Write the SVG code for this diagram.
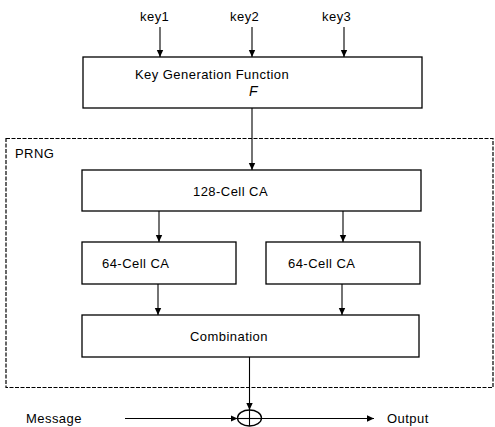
<svg xmlns="http://www.w3.org/2000/svg" width="495" height="427" viewBox="0 0 495 427">
<style>
.box{fill:#fff;stroke:#000;stroke-width:1.3}
.t{font-family:"Liberation Sans",Arial,sans-serif;font-size:13px;letter-spacing:0.45px;fill:#000}
.c{stroke:#000;stroke-width:1.1;fill:none}
.dash{fill:none;stroke:#000;stroke-width:1.2;stroke-dasharray:4 1.5}
</style>
<defs>
<marker id="ah" markerWidth="8" markerHeight="8" refX="7" refY="4" orient="auto" markerUnits="userSpaceOnUse">
<path d="M0,0.8 L7,4 L0,7.2 Z" fill="#000"/>
</marker>
</defs>
<rect width="495" height="427" fill="#fff"/>
<g id="prng">
<rect class="dash" x="6" y="138.5" width="487" height="249"/>
<text class="t" x="15" y="158">PRNG</text>
</g>
<g id="keys">
<text class="t" x="140" y="21">key1</text>
<text class="t" x="230" y="21">key2</text>
<text class="t" x="322" y="21">key3</text>
</g>
<g id="kgf">
<rect class="box" x="83" y="57" width="339" height="51"/>
<text class="t" x="135" y="79">Key Generation Function</text>
<text x="249" y="96" style="font-family:'Liberation Sans',Arial,sans-serif;font-size:14px;font-style:italic">F</text>
</g>
<g id="ca128">
<rect class="box" x="82" y="170" width="339" height="41"/>
<text class="t" x="193" y="196">128-Cell CA</text>
</g>
<g id="ca64a">
<rect class="box" x="82" y="242" width="154" height="42"/>
<text class="t" x="102" y="268">64-Cell CA</text>
</g>
<g id="ca64b">
<rect class="box" x="266" y="242" width="154" height="42"/>
<text class="t" x="288" y="268">64-Cell CA</text>
</g>
<g id="comb">
<rect class="box" x="82" y="315" width="337" height="42"/>
<text class="t" x="190" y="341">Combination</text>
</g>
<g id="xor">
<ellipse cx="249.5" cy="418" rx="12" ry="8" fill="#fff" stroke="#000" stroke-width="1.3"/>
<line x1="249.5" y1="410" x2="249.5" y2="426" stroke="#000" stroke-width="1.1"/>
<line x1="237.5" y1="418.5" x2="261.5" y2="418.5" stroke="#000" stroke-width="1.1"/>
</g>
<g id="io">
<text class="t" x="26" y="423">Message</text>
<text class="t" x="387" y="423">Output</text>
</g>
<g id="connectors">
<line class="c" x1="160" y1="27" x2="160" y2="57" marker-end="url(#ah)"/>
<line class="c" x1="252" y1="27" x2="252" y2="57" marker-end="url(#ah)"/>
<line class="c" x1="344" y1="27" x2="344" y2="57" marker-end="url(#ah)"/>
<line class="c" x1="252" y1="108" x2="252" y2="170" marker-end="url(#ah)"/>
<line class="c" x1="159" y1="211" x2="159" y2="242" marker-end="url(#ah)"/>
<line class="c" x1="343" y1="211" x2="343" y2="242" marker-end="url(#ah)"/>
<line class="c" x1="158" y1="284" x2="158" y2="315" marker-end="url(#ah)"/>
<line class="c" x1="342" y1="284" x2="342" y2="315" marker-end="url(#ah)"/>
<line class="c" x1="249.5" y1="357" x2="249.5" y2="410" marker-end="url(#ah)"/>
<line class="c" x1="125" y1="418.5" x2="237.5" y2="418.5" marker-end="url(#ah)"/>
<line class="c" x1="261.5" y1="418.5" x2="374" y2="418.5" marker-end="url(#ah)"/>
</g>
</svg>
